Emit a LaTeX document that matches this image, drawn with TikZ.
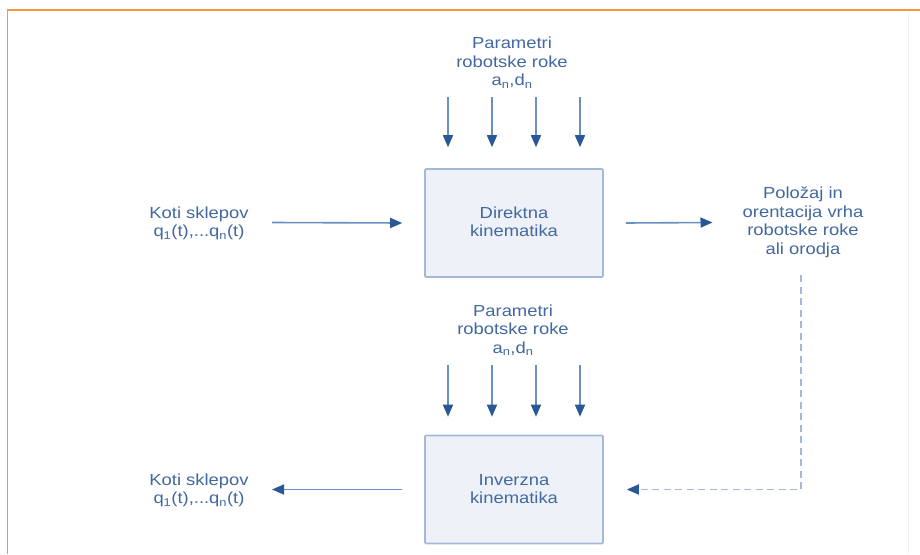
\documentclass[tikz,border=0pt]{standalone}
\usepackage{fontspec}
\setmainfont{Liberation Sans}[FakeStretch=1.15]
\usetikzlibrary{arrows.meta}
\definecolor{txtblue}{HTML}{4168A0}
\definecolor{shaft}{HTML}{6A8FC0}
\definecolor{tipblue}{HTML}{2A5897}
\definecolor{boxline}{HTML}{A4B9D6}
\definecolor{boxfill}{HTML}{EEF2F8}
\definecolor{frameorange}{HTML}{F7963E}
\tikzset{
  lbl/.style={text=txtblue, align=center, font=\fontsize{16}{18.5}\selectfont, inner sep=0pt},
  kbox/.style={draw=boxline, fill=boxfill, line width=1.6pt, minimum width=178pt, minimum height=108pt, rounded corners=1pt},
  arr/.style={draw=shaft, line width=1.6pt, -{Triangle[length=12pt,width=10pt,color=tipblue]}},
  darr/.style={draw=boxline, line width=1.8pt, dash pattern=on 7pt off 4.5pt, -{Triangle[length=12pt,width=10pt,color=tipblue]}}
}
\begin{document}
\begin{tikzpicture}[x=1pt,y=-1pt]
\useasboundingbox (0,0) rectangle (920,554);
\fill[white] (0,0) rectangle (920,554);
% frame
\draw[frameorange, line width=1.5pt] (920,10) -- (7.5,10) -- (7.5,554);
\draw[gray!10, line width=0.6pt] (908,12) -- (908,554);

% boxes
\node[kbox] (dir) at (514,223) {};
\node[lbl] (dirt) at (514,222) {Direktna\\kinematika};
\node[kbox] (inv) at (514,489.5) {};
\node[lbl] (invt) at (514,489) {Inverzna\\kinematika};

% labels
\node[lbl] (parA) at (512,62.5) {Parametri\\robotske roke\\a\textsubscript{n},d\textsubscript{n}};
\node[lbl] (parB) at (513,330) {Parametri\\robotske roke\\a\textsubscript{n},d\textsubscript{n}};
\node[lbl] (kotA) at (199,223.5) {Koti sklepov\\q\textsubscript{1}(t),...q\textsubscript{n}(t)};
\node[lbl] (kotB) at (199,490.5) {Koti sklepov\\q\textsubscript{1}(t),...q\textsubscript{n}(t)};
\node[lbl] (pol) at (803,222.5) {Položaj in\\orentacija vrha\\robotske roke\\ali orodja};

% down arrows
\foreach \dx/\nm in {-66/a,-22/b,22/c,66/d}{
  \coordinate (ts\nm) at ([xshift=\dx pt, yshift=71pt]dir.north);
  \coordinate (te\nm) at ([xshift=\dx pt, yshift=21pt]dir.north);
  \draw[arr] (ts\nm) -- (te\nm);
  \coordinate (bs\nm) at ([xshift=\dx pt, yshift=70pt]inv.north);
  \coordinate (be\nm) at ([xshift=\dx pt, yshift=18pt]inv.north);
  \draw[arr] (bs\nm) -- (be\nm);
}

% horizontal arrows
\coordinate (k1) at (272,222.5);
\draw[arr] (k1) -- ([xshift=-22pt]dir.west);
\coordinate (p1) at (712.5,222.5);
\draw[arr] ([xshift=22pt]dir.east) -- (p1);
\coordinate (k2) at (272,489.5);
\draw[arr] ([xshift=-22pt]inv.west) -- (k2);

% dashed return
\coordinate (ds) at (801,275);
\coordinate (dc) at (801,489.5);
\draw[darr] (ds) -- (dc) -- ([xshift=23pt]inv.east);
\end{tikzpicture}
\end{document}
